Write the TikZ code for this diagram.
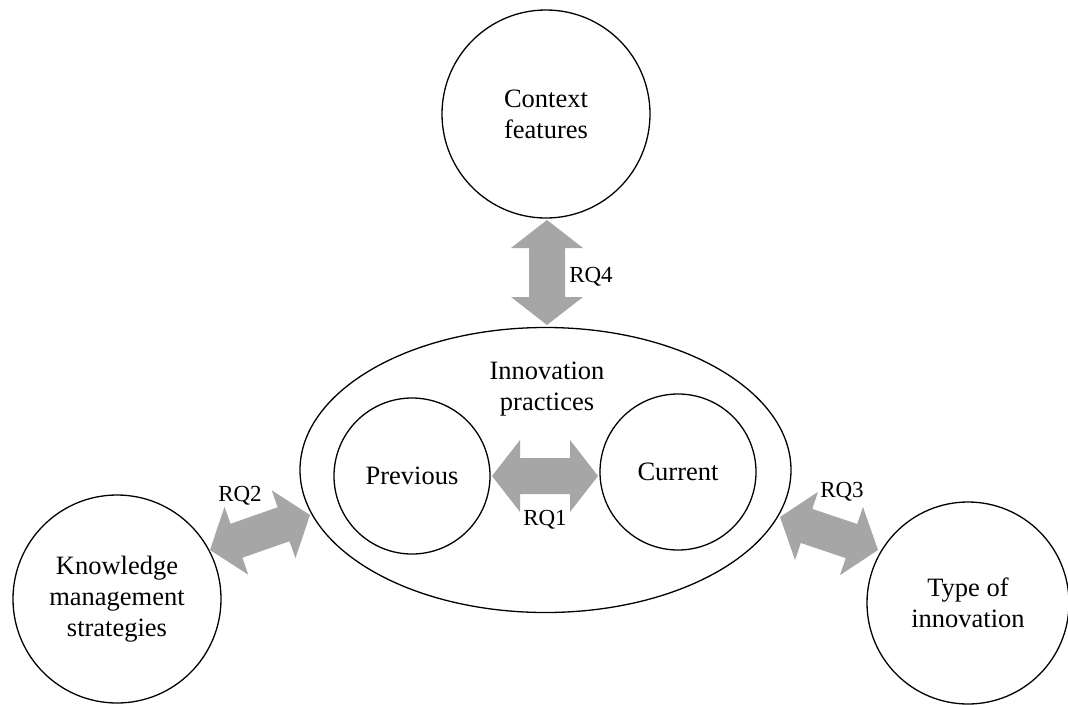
\documentclass[tikz,border=0pt]{standalone}
\usepackage{fontspec}
\setmainfont{Liberation Serif}
\usetikzlibrary{calc,shapes.geometric}
\definecolor{arrowgray}{RGB}{166,166,166}
\tikzset{
  bubble/.style={circle, draw=black, line width=1.3pt, inner sep=0pt, align=center,
    font=\fontsize{26.5}{31}\selectfont},
  ring/.style={ellipse, draw=black, line width=1.3pt, inner sep=0pt},
  maintext/.style={align=center, inner sep=0pt, font=\fontsize{26.5}{31}\selectfont},
  rqtext/.style={inner sep=0pt, font=\fontsize{23}{27}\selectfont},
  arrowfill/.style={fill=arrowgray}
}
\newcommand\dblarr[2]{%
  \fill[arrowfill] (#1)
    -- ($(#1)!28pt!(#2)!36pt!90:(#2)$)
    -- ($(#1)!28pt!(#2)!18pt!90:(#2)$)
    -- ($(#2)!28pt!(#1)!18pt!-90:(#1)$)
    -- ($(#2)!28pt!(#1)!36pt!-90:(#1)$)
    -- (#2)
    -- ($(#2)!28pt!(#1)!36pt!90:(#1)$)
    -- ($(#2)!28pt!(#1)!18pt!90:(#1)$)
    -- ($(#1)!28pt!(#2)!18pt!-90:(#2)$)
    -- ($(#1)!28pt!(#2)!36pt!-90:(#2)$)
    -- cycle;}
\begin{document}
\begin{tikzpicture}[x=1pt,y=-1pt]
\useasboundingbox (0,0) rectangle (1068,704);
% arrows
\coordinate (a4a) at (547,220);
\coordinate (a4b) at (547,325);
\coordinate (a1a) at (492,476);
\coordinate (a1b) at (598,476);
\coordinate (a2a) at (210,550);
\coordinate (a2b) at (310,515);
\coordinate (a3a) at (780,517);
\coordinate (a3b) at (878,550);
\dblarr{a4a}{a4b}
\dblarr{a1a}{a1b}
\dblarr{a2a}{a2b}
\dblarr{a3a}{a3b}
% nodes
\node[bubble, minimum size=208pt] (ctx) at (546,114) {Context\\features};
\node[ring, minimum width=491pt, minimum height=285pt] (ell) at (545.5,470) {};
\node[maintext] (ip) at (547,389) {Innovation\\practices};
\node[bubble, minimum size=156pt] (prev) at (412,476) {Previous};
\node[bubble, minimum size=156pt] (cur) at (678,472) {Current};
\node[bubble, minimum size=208pt] (km) at (117,599) {Knowledge\\management\\strategies};
\node[bubble, minimum size=202pt] (ti) at (968,603) {Type of\\innovation};
% labels
\node[rqtext] (rq4) at (591,277) {RQ4};
\node[rqtext] (rq1) at (545,520) {RQ1};
\node[rqtext] (rq2) at (240,496) {RQ2};
\node[rqtext] (rq3) at (842,492) {RQ3};
\end{tikzpicture}
\end{document}
